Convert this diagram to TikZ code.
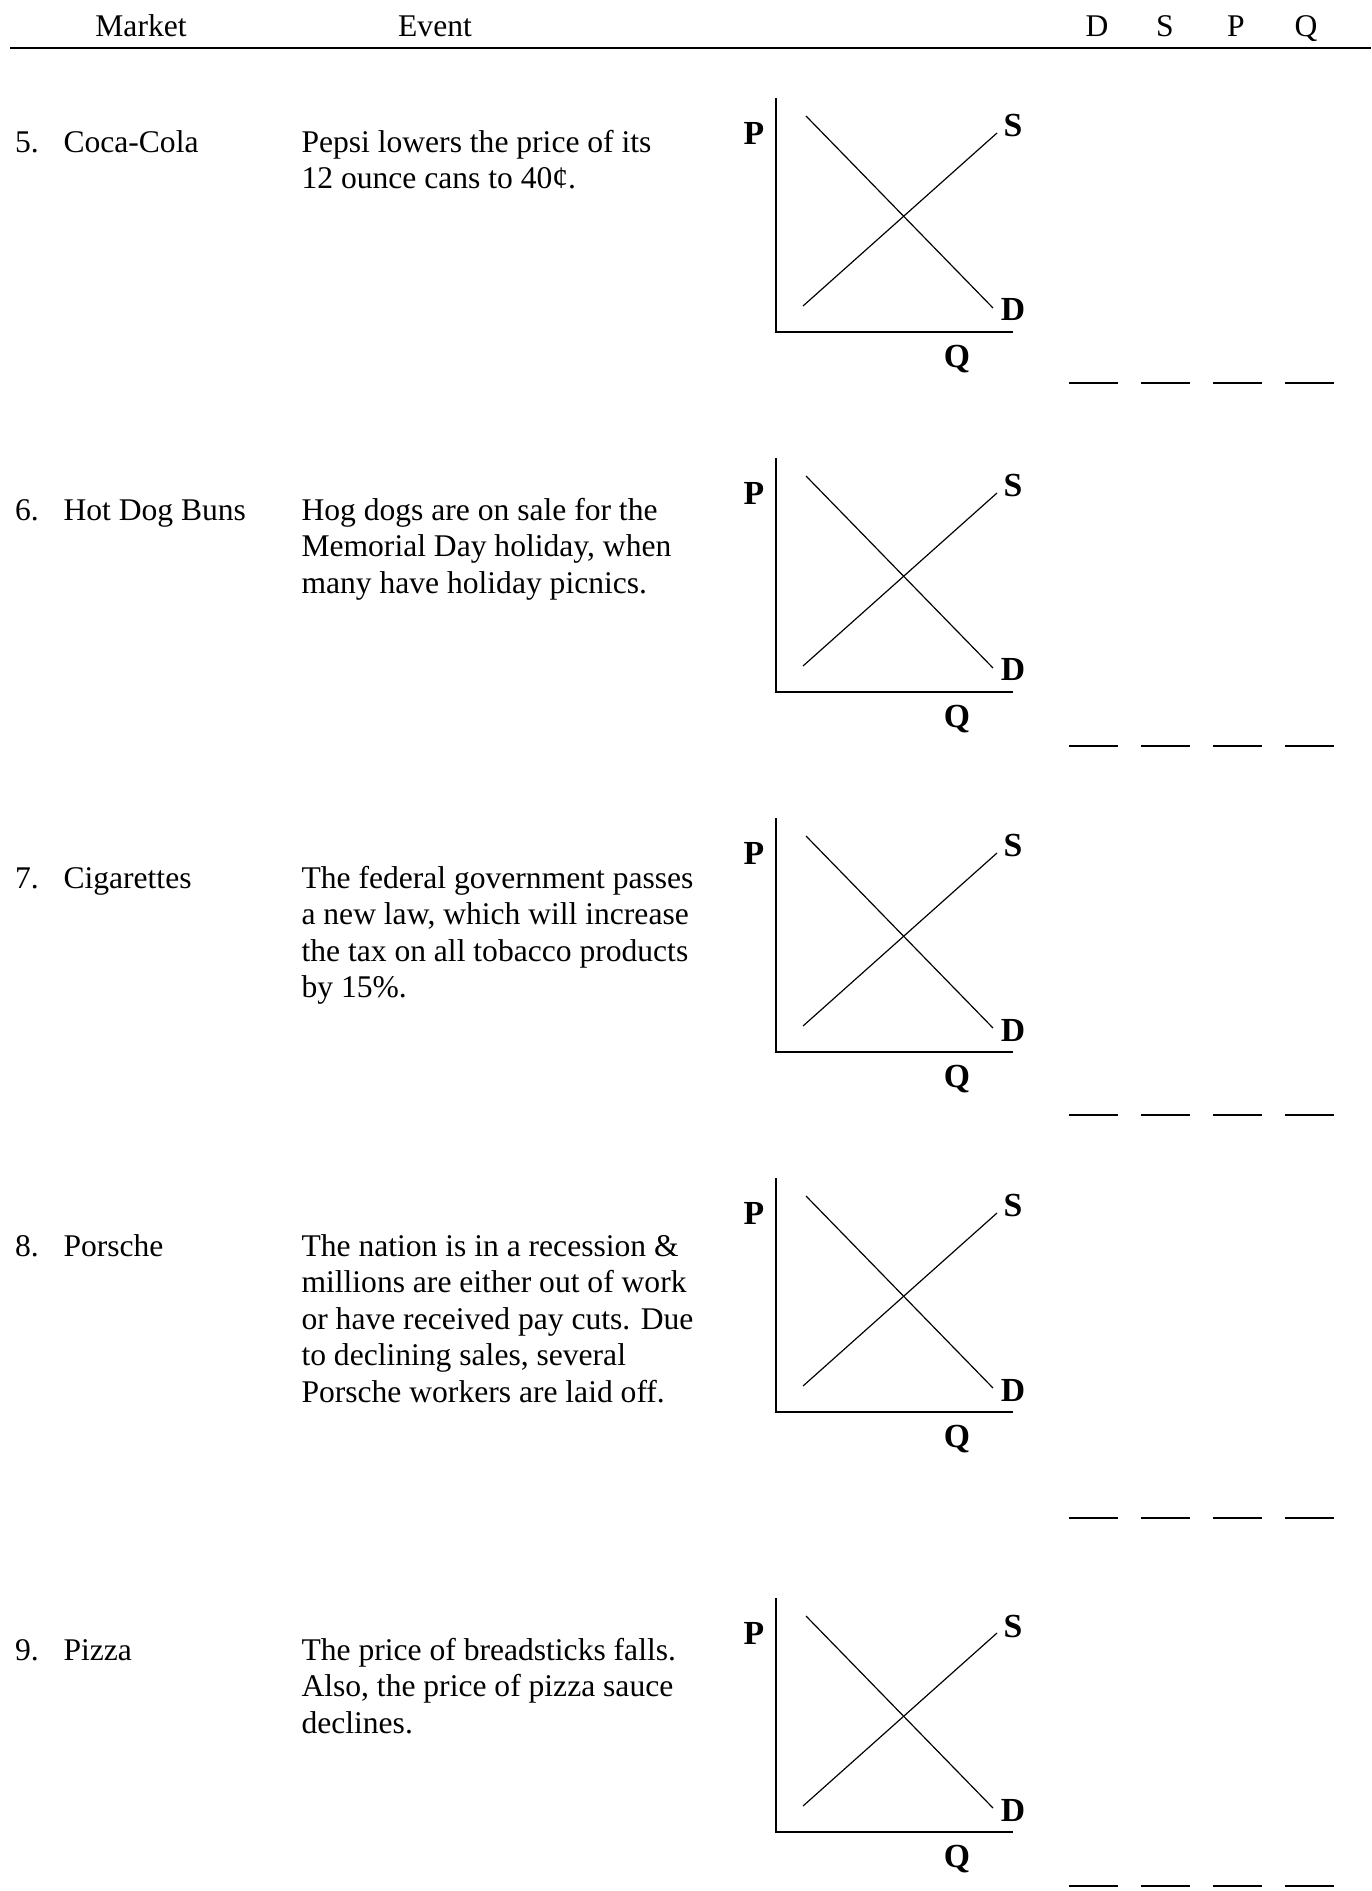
\documentclass[tikz,border=0pt]{standalone}
\usepackage{fontspec}
\setmainfont{Liberation Serif}
\begin{document}
\begin{tikzpicture}[x=0.38pt,y=-0.38pt,
  txt/.style={inner sep=0pt, anchor=base west, font=\fontsize{12}{13.8}\selectfont},
  hdr/.style={inner sep=0pt, anchor=base, font=\fontsize{12}{13.8}\selectfont},
  lab/.style={inner sep=0pt, font=\fontsize{12.8}{14}\selectfont\bfseries},
  axisline/.style={line width=0.45pt},
  curveline/.style={line width=0.45pt},
  blankline/.style={line width=0.7pt},
  ruleline/.style={line width=1pt}]
\useasboundingbox (0,0) rectangle (1371,1891);
% header
\node[hdr] (hMarket) at (141,37) {Market};
\node[hdr] (hEvent) at (435,37) {Event};
\node[hdr] (hD) at (1097,37) {D};
\node[hdr] (hS) at (1165,37) {S};
\node[hdr] (hP) at (1236,37) {P};
\node[hdr] (hQ) at (1306,37) {Q};
\coordinate (ruleL) at (10,48);
\coordinate (ruleR) at (1371,48);
\draw[ruleline] (ruleL) -- (ruleR);
% row 5
\node[txt] (n5) at (14.5,152.5) {5.};
\node[txt] (m5) at (63,152.5) {Coca-Cola};
\node[txt] (e5a) at (301,152.5) {Pepsi lowers the price of its};
\node[txt] (e5b) at (301,189) {12 ounce cans to 40¢.};
% row 6
\node[txt] (n6) at (14.5,520.5) {6.};
\node[txt] (m6) at (63,520.5) {Hot Dog Buns};
\node[txt] (e6a) at (301,520.5) {Hog dogs are on sale for the};
\node[txt] (e6b) at (301,557) {Memorial Day holiday, when};
\node[txt] (e6c) at (301,593.5) {many have holiday picnics.};
% row 7
\node[txt] (n7) at (14.5,888) {7.};
\node[txt] (m7) at (63,888) {Cigarettes};
\node[txt] (e7a) at (301,888) {The federal government passes};
\node[txt] (e7b) at (301,924.5) {a new law, which will increase};
\node[txt] (e7c) at (301,961) {the tax on all tobacco products};
\node[txt] (e7d) at (301,997.5) {by 15\%.};
% row 8
\node[txt] (n8) at (14.5,1256) {8.};
\node[txt] (m8) at (63,1256) {Porsche};
\node[txt] (e8a) at (301,1256) {The nation is in a recession \&};
\node[txt] (e8b) at (301,1292.5) {millions are either out of work};
\node[txt] (e8c) at (301,1329) {or have received pay cuts. Due};
\node[txt] (e8d) at (301,1365.5) {to declining sales, several};
\node[txt] (e8e) at (301,1402) {Porsche workers are laid off.};
% row 9
\node[txt] (n9) at (14.5,1660) {9.};
\node[txt] (m9) at (63,1660) {Pizza};
\node[txt] (e9a) at (301,1660) {The price of breadsticks falls.};
\node[txt] (e9b) at (301,1696.5) {Also, the price of pizza sauce};
\node[txt] (e9c) at (301,1733) {declines.};
% graphs
\foreach \g/\n in {0/a,360/b,720/c,1080/d,1500/e} {
  \coordinate (top\n) at (776,{98+\g});
  \coordinate (org\n) at (776,{332+\g});
  \coordinate (end\n) at (1013,{332+\g});
  \draw[axisline] (top\n) -- (org\n) -- (end\n);
  \node[lab] (P\n) at (754,{133+\g}) {P};
  \node[lab] (S\n) at (1013,{126+\g}) {S};
  \node[lab] (D\n) at (1013,{310+\g}) {D};
  \node[lab] (Q\n) at (957,{359+\g}) {Q};
  \coordinate (dA\n) at (806,{116+\g});
  \coordinate (dB\n) at (993,{308+\g});
  \coordinate (sA\n) at (803,{306+\g});
  \coordinate (sB\n) at (997,{133+\g});
  \draw[curveline] (dA\n) -- (dB\n);
  \draw[curveline] (sA\n) -- (sB\n);
}
% answer blanks
\foreach \y in {383,746,1115,1518,1886} {
  \foreach \x in {1069,1141,1213,1285} {
    \draw[blankline] (\x,\y) -- ++(49,0);
  }
}
\end{tikzpicture}
\end{document}
